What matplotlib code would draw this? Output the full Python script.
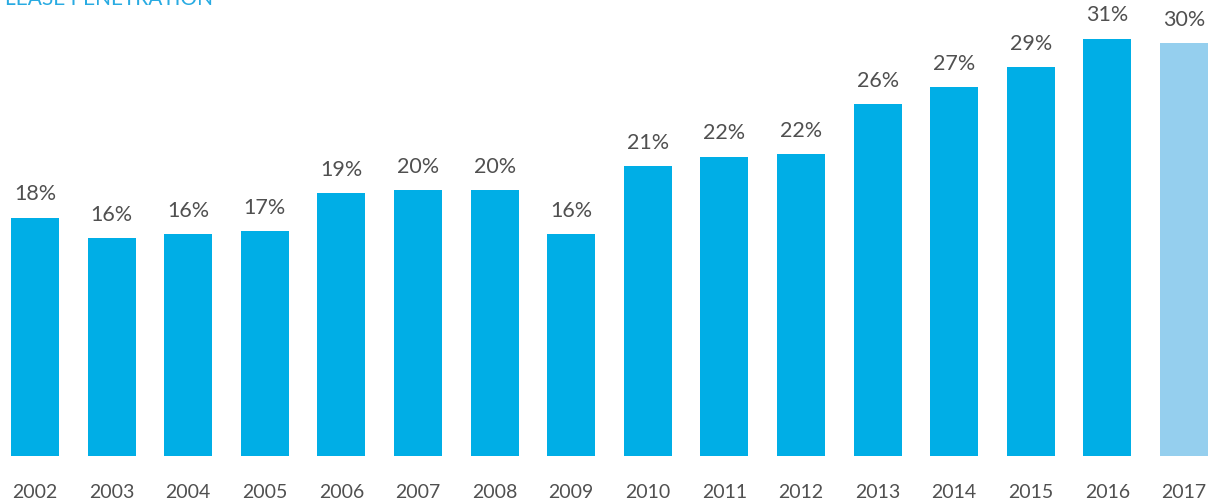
import matplotlib
matplotlib.use("Agg")
import matplotlib.pyplot as plt

years = ["2002", "2003", "2004", "2005", "2006", "2007", "2008", "2009",
         "2010", "2011", "2012", "2013", "2014", "2015", "2016", "2017"]
values = [17.6, 16.1, 16.4, 16.6, 19.4, 19.6, 19.6, 16.4,
          21.4, 22.1, 22.3, 26.0, 27.2, 28.7, 30.8, 30.5]
labels = ["18%", "16%", "16%", "17%", "19%", "20%", "20%", "16%",
          "21%", "22%", "22%", "26%", "27%", "29%", "31%", "30%"]
title = "LEASE PENETRATION"

main_color = "#00AEE6"
light_color = "#95CFEE"
colors = [main_color] * (len(years) - 1) + [light_color]

W, H = 1219, 503
fig = plt.figure(figsize=(W / 100, H / 100), dpi=100)
base_px = 456
ax = fig.add_axes([0, (H - base_px) / H, 1, base_px / H])

x = list(range(len(years)))
bars = ax.bar(x, values, width=0.627, color=colors)
ax.set_xlim(-35 / 76.6, len(years) - 1 + 35 / 76.6)
ax.set_ylim(0, base_px / 13.55)

for xi, v, lab in zip(x, values, labels):
    ax.annotate(lab, (xi, v), xytext=(0, 9.5), textcoords="offset points",
                ha="center", va="bottom", fontsize=15.5, color="#505050",
                family="Lato")

ax.set_xticks(x)
ax.set_xticklabels(years, fontsize=14, color="#505050", family="Lato")
ax.tick_params(axis="x", length=0, pad=20)
ax.set_yticks([])
for s in ax.spines.values():
    s.set_visible(False)

fig.text(5 / W, 1 - 5 / H, title, ha="left", va="baseline", fontsize=15,
         color="#29ABE2", family="Lato")

fig.savefig("out.png", dpi=100)
